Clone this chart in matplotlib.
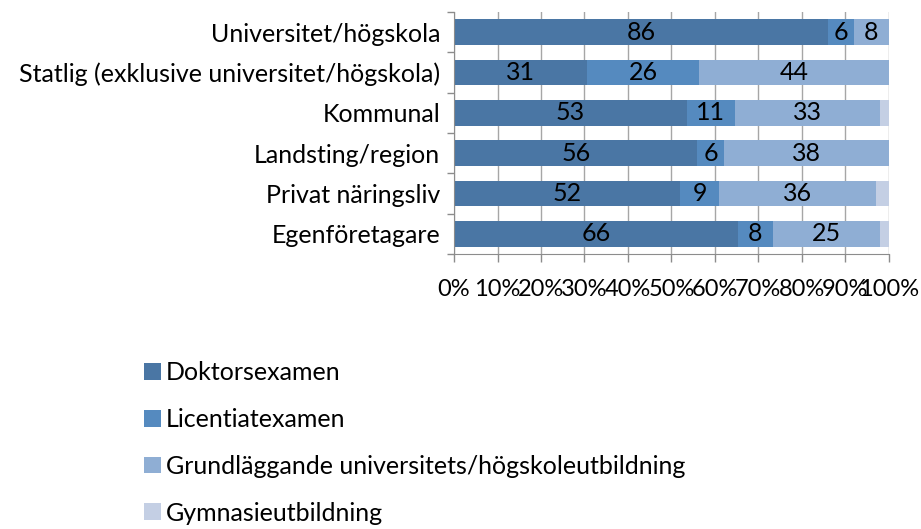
import matplotlib.pyplot as plt
import numpy as np

plt.rcParams['font.family'] = ['Lato', 'DejaVu Sans']

categories = ['Universitet/högskola', 'Statlig (exklusive universitet/högskola)',
              'Kommunal', 'Landsting/region', 'Privat näringsliv', 'Egenföretagare']
series = ['Doktorsexamen', 'Licentiatexamen',
          'Grundläggande universitets/högskoleutbildning', 'Gymnasieutbildning']
doktor = [86, 31, 53, 56, 52, 66]
licentiat = [6, 26, 11, 6, 9, 8]
grund = [8, 44, 33, 38, 36, 25]
gymnasie = [0, 0, 2, 0, 3, 2]
xticklabels = ['0%', '10%', '20%', '30%', '40%', '50%', '60%', '70%', '80%', '90%', '100%']

colors = ['#4a76a4', '#558abf', '#8faed4', '#c4cfe4']

data = np.array([doktor, licentiat, grund, gymnasie], dtype=float)
totals = data.sum(axis=0)
shares = data / totals  # 100% stacked

fig = plt.figure(figsize=(9.21, 5.29), dpi=100)
ax = fig.add_axes([0.493, 0.520, 0.472, 0.457])

y = np.arange(len(categories))
left = np.zeros(len(categories))
for i, name in enumerate(series):
    bars = ax.barh(y, shares[i], left=left, height=0.64, color=colors[i],
                   label=name, zorder=2)
    if i < 3:
        ax.bar_label(bars, labels=[str(int(v)) for v in data[i]],
                     label_type='center', fontsize=18, color='black')
    left += shares[i]

ax.set_xlim(0, 1)
ax.set_ylim(len(categories) - 0.5, -0.5)
ax.set_xticks(np.linspace(0, 1, 11))
ax.set_xticklabels(xticklabels, fontsize=17)
ax.set_yticks(y)
ax.set_yticklabels(categories, fontsize=18)
ax.set_yticks(np.arange(len(categories) + 1) - 0.5, minor=True)
ax.tick_params(axis='y', which='major', length=0, pad=10)
ax.tick_params(axis='y', which='minor', length=5, color='#8c8c8c', width=1)
ax.tick_params(axis='x', length=6, color='#8c8c8c', width=1, pad=12)
ax.grid(axis='x', color='#a6a6a6', linewidth=1, zorder=0)

for side in ['top', 'right']:
    ax.spines[side].set_visible(False)
for side in ['left', 'bottom']:
    ax.spines[side].set_color('#8c8c8c')

fig.legend(loc='upper left', bbox_to_anchor=(0.146, 0.336), frameon=False,
           fontsize=18, handlelength=0.65, handleheight=0.65, handletextpad=0.2,
           labelspacing=0.95, borderaxespad=0)

fig.savefig('out.png', dpi=100)
